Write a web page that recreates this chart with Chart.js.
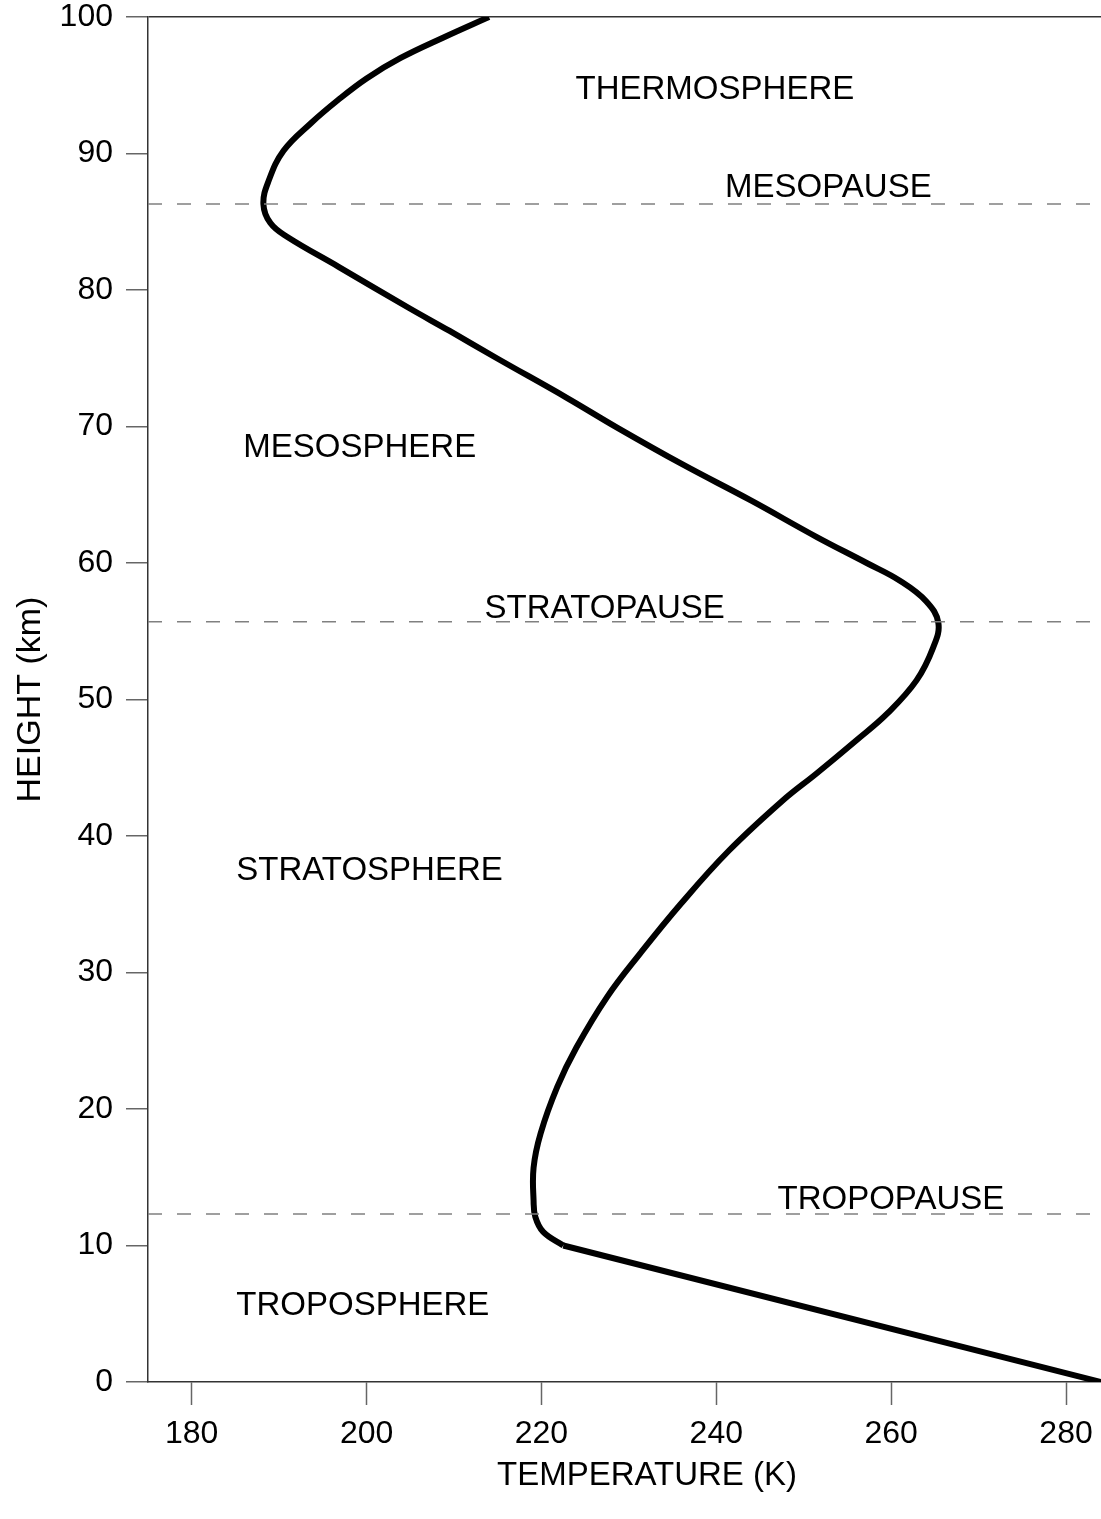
<!DOCTYPE html>
<html>
<head>
<meta charset="utf-8">
<script src="https://cdn.jsdelivr.net/npm/chart.js@4"></script>
<style>
  html, body { margin: 0; padding: 0; background: #fff; }
  #wrap { width: 1101px; height: 1519px; }
</style>
</head>
<body>
<div id="wrap"><canvas id="profileChart"></canvas></div>
<script>
// Temperature profile (K) vs height (km)
const troposphereHeight = [0, 10.0];
const troposphereTemp = [284.0, 222.5];

const upperHeight = [10.0, 11.0, 12.1, 13.3, 15.7, 18.2, 21.6, 24.5, 28.2, 31.4,
  35.0, 38.9, 42.6, 44.6, 47.0, 49.0, 51.4, 53.8, 55.6, 57.2,
  58.7, 60.0, 61.9, 64.6, 67.2, 69.9, 72.1, 75.0, 77.0, 78.7,
  81.7, 83.9, 84.9, 86.3, 88.0, 90.2, 92.2, 93.9, 95.5, 97.0,
  98.5, 100.0];
const upperTemp = [222.5, 220.2, 219.3, 219.1, 219.1, 219.9, 221.8, 224.0, 227.5, 231.3,
  235.9, 241.4, 247.6, 251.5, 256.0, 259.6, 262.9, 264.8, 265.4, 264.0,
  261.0, 257.2, 251.5, 243.9, 236.2, 228.7, 222.9, 214.9, 209.5, 204.8,
  196.8, 190.9, 189.0, 188.2, 188.8, 190.5, 193.6, 196.7, 200.0, 203.9,
  208.8, 214.0];

// Boundary heights (dashed lines)
const pauseHeights = [12.3, 55.7, 86.3];

// Axis ticks
const xTickValues = [180, 200, 220, 240, 260, 280];
const yTickValues = [0, 10, 20, 30, 40, 50, 60, 70, 80, 90, 100];
const xMin = 175, xMax = 284;

// Layer names with their anchor (temperature, height) in data units
const layerNames = ["THERMOSPHERE", "MESOPAUSE", "MESOSPHERE", "STRATOPAUSE", "STRATOSPHERE", "TROPOPAUSE", "TROPOSPHERE"];
const layerTemp = [223.9, 241.0, 185.9, 213.5, 185.1, 247.0, 185.1];
const layerHeight = [94.0, 86.8, 67.8, 56.0, 36.75, 12.7, 4.9];

const xTitle = "TEMPERATURE (K)";
const yTitle = "HEIGHT (km)";

const FONT = '"Liberation Sans", Arial, Helvetica, sans-serif';

function toPoints(xs, ys) {
  return xs.map((x, i) => ({ x: x, y: ys[i] }));
}

const datasets = [];

// Dashed boundary lines
pauseHeights.forEach((h) => {
  datasets.push({
    data: [{ x: xMin, y: h }, { x: xMax, y: h }],
    borderColor: "#808080",
    borderWidth: 1.5,
    borderDash: [14, 15],
    pointRadius: 0,
    showLine: true,
    tension: 0,
  });
});

// Troposphere straight segment
datasets.push({
  data: toPoints(troposphereTemp, troposphereHeight),
  borderColor: "#000",
  borderWidth: 6,
  pointRadius: 0,
  showLine: true,
  tension: 0,
  borderCapStyle: "butt",
});

// Rest of the profile (smooth)
datasets.push({
  data: toPoints(upperTemp, upperHeight),
  borderColor: "#000",
  borderWidth: 6,
  pointRadius: 0,
  showLine: true,
  tension: 0.4,
  borderCapStyle: "butt",
});

// Small plugin for the layer names and the x axis title
const layerLabels = {
  id: "layerLabels",
  afterDatasetsDraw(chart) {
    const ctx = chart.ctx;
    const xs = chart.scales.x;
    const ys = chart.scales.y;
    ctx.save();
    ctx.font = "33px " + FONT;
    ctx.fillStyle = "#000";
    ctx.textAlign = "left";
    ctx.textBaseline = "alphabetic";
    layerNames.forEach((name, i) => {
      ctx.fillText(name, xs.getPixelForValue(layerTemp[i]), ys.getPixelForValue(layerHeight[i]));
    });
    // x title sits a little right of the axis centre
    ctx.textAlign = "center";
    ctx.textBaseline = "middle";
    ctx.fillText(xTitle, 647, 1476);
    ctx.restore();
  },
};

const ctx = document.getElementById("profileChart").getContext("2d");
new Chart(ctx, {
  type: "scatter",
  data: { datasets: datasets },
  options: {
    responsive: true,
    maintainAspectRatio: false,
    animation: false,
    events: [],
    layout: { padding: { top: 17, right: 0, left: 0, bottom: 0 } },
    plugins: {
      legend: { display: false },
      tooltip: { enabled: false },
    },
    scales: {
      x: {
        type: "linear",
        min: xMin,
        max: xMax,
        afterBuildTicks: (scale) => {
          scale.ticks = xTickValues.map((v) => ({ value: v }));
        },
        afterFit: (scale) => {
          scale.height = 137;
          scale.paddingRight = 0;
        },
        border: { display: true, color: "#333", width: 1.5 },
        grid: {
          drawOnChartArea: false,
          drawTicks: true,
          tickLength: 23,
          tickColor: "#666",
          tickWidth: 1.5,
        },
        ticks: {
          color: "#000",
          font: { family: FONT, size: 32 },
          padding: 10,
          maxRotation: 0,
        },
        title: { display: false },
      },
      y: {
        type: "linear",
        min: 0,
        max: 100,
        afterBuildTicks: (scale) => {
          scale.ticks = yTickValues.map((v) => ({ value: v }));
        },
        afterFit: (scale) => {
          scale.width = 148;
          // let the "100" label stick out above the plot
          scale.paddingTop = 0;
          scale.paddingBottom = 0;
        },
        border: { display: true, color: "#333", width: 1.5 },
        grid: {
          drawOnChartArea: true,
          drawTicks: true,
          tickLength: 22,
          // only the top frame line is drawn across the plot
          color: (c) => (c.tick && c.tick.value === 100 ? "#333" : "rgba(0,0,0,0)"),
          lineWidth: 1.5,
          tickColor: "#666",
          tickWidth: 1.5,
        },
        ticks: {
          color: "#000",
          font: { family: FONT, size: 32 },
          padding: 13,
        },
        title: {
          display: true,
          text: yTitle,
          color: "#000",
          font: { family: FONT, size: 34 },
          padding: { top: 10, bottom: 0 },
        },
      },
    },
  },
  plugins: [layerLabels],
});
</script>
</body>
</html>
